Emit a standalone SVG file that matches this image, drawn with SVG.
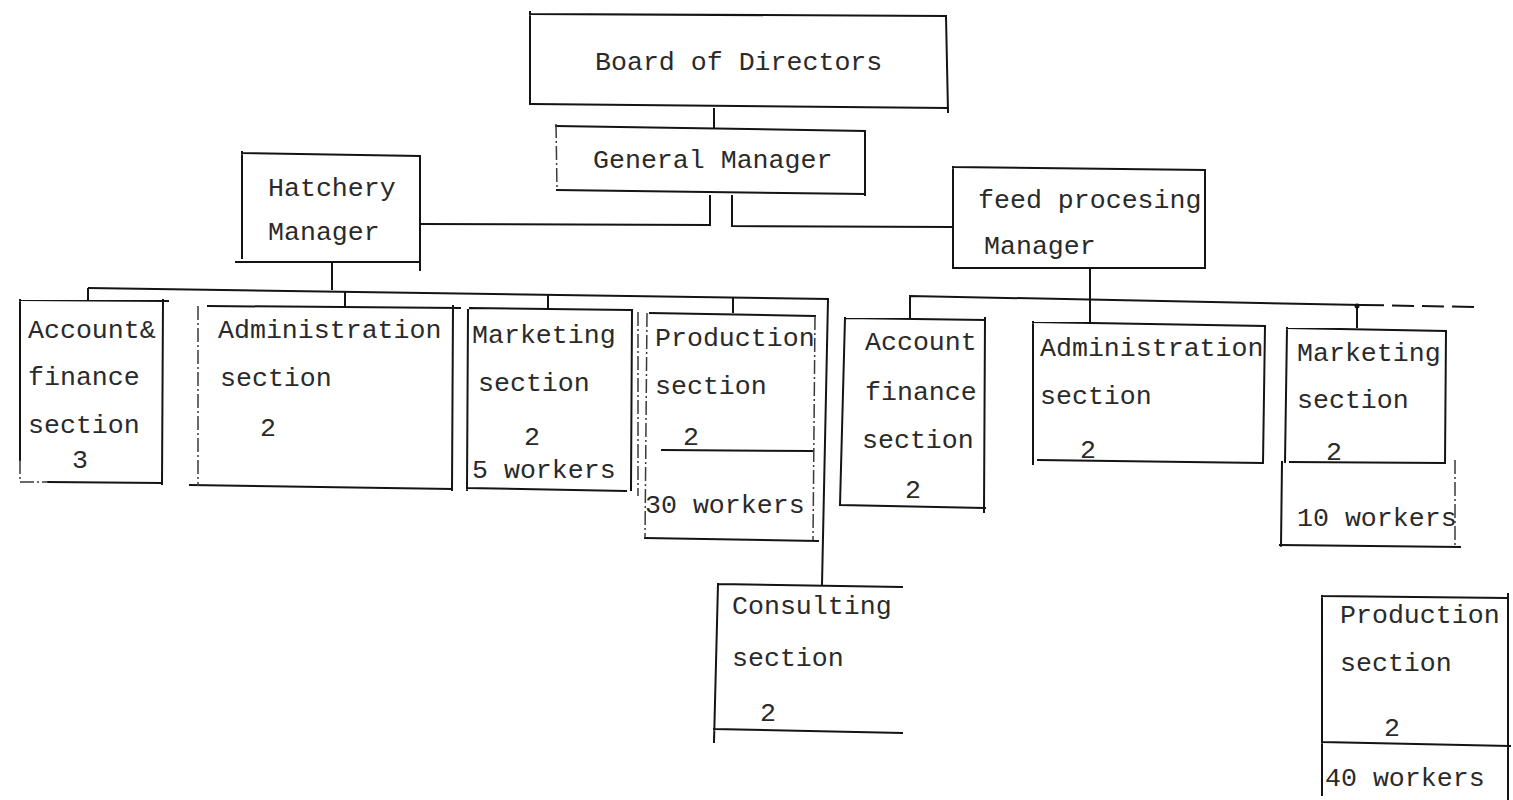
<svg xmlns="http://www.w3.org/2000/svg" width="1513" height="800" viewBox="0 0 1513 800">
  <style>
    .box { fill: none; stroke: #141414; stroke-width: 2; stroke-linecap: square; }
    .faint { fill: none; stroke: #3a3a3a; stroke-width: 1.5; stroke-dasharray: 14 3 2 3; }
    .link { fill: none; stroke: #141414; stroke-width: 2; }
    .dash { fill: none; stroke: #141414; stroke-width: 2; stroke-dasharray: 22 8; }
    text { font-family: "Liberation Mono", "DejaVu Sans Mono", monospace; font-size: 26.6px; fill: #2a2a2a; }
  </style>
  <rect width="1513" height="800" fill="#ffffff"/>

  <!-- reporting lines -->
  <g id="connectors">
    <!-- board to general manager -->
    <path class="link" d="M714,108 L714,128"/>
    <!-- general manager to the two division managers -->
    <path class="link" d="M710,195 L710,225 L420,224"/>
    <path class="link" d="M732,195 L732,226 L953,227"/>
    <!-- hatchery division bus -->
    <path class="link" d="M332,262 L332,290"/>
    <path class="link" d="M88,288 L828,299 L822,585"/>
    <path class="link" d="M88,288 L88,300"/>
    <path class="link" d="M345,292 L345,306"/>
    <path class="link" d="M548,295 L548,309"/>
    <path class="link" d="M733,297 L733,313"/>
    <!-- feed processing division bus -->
    <path class="link" d="M1090,268 L1090,322"/>
    <path class="link" d="M910,318 L910,296 L1362,305"/>
    <path class="dash" d="M1362,305 L1480,307"/>
    <path class="link" d="M1357,305 L1357,328"/>
    <circle cx="1357" cy="306" r="2.5" fill="#141414"/>
  </g>

  <g id="board">
    <path class="box" d="M530,14 L946,16 M946,16 L948,112 M532,104 L948,108 M530,12 L530,104"/>
    <text x="595" y="70">Board of Directors</text>
  </g>

  <g id="general-manager">
    <path class="box" d="M556,126 L865,131 L865,195 M557,190 L865,194"/>
    <path class="faint" d="M556,124 L557,190"/>
    <text x="593" y="168">General Manager</text>
  </g>

  <g id="hatchery-manager">
    <path class="box" d="M242,153 L420,156 L420,270 M236,262 L418,262 M242,152 L242,258"/>
    <text x="268" y="196">Hatchery</text>
    <text x="268" y="240">Manager</text>
  </g>

  <g id="feed-manager">
    <path class="box" d="M953,167 L1205,170 L1205,268 M953,167 L953,268 L1205,268"/>
    <text x="978" y="208">feed procesing</text>
    <text x="984" y="254">Manager</text>
  </g>

  <!-- hatchery division sections -->
  <g id="hatchery-accounts">
    <path class="box" d="M20,300 L168,301 M163,300 L162,484 M48,482 L162,483 M20,300 L20,460"/>
    <path class="faint" d="M20,460 L20,482 L48,482"/>
    <text x="28" y="338">Account&amp;</text>
    <text x="28" y="385">finance</text>
    <text x="28" y="433">section</text>
    <text x="72" y="468">3</text>
  </g>

  <g id="hatchery-administration">
    <path class="box" d="M208,306 L460,308 M453,306 L452,490 M190,485 L452,489"/>
    <path class="faint" d="M198,306 L198,486"/>
    <text x="218" y="338">Administration</text>
    <text x="220" y="386">section</text>
    <text x="260" y="436">2</text>
  </g>

  <g id="hatchery-marketing">
    <path class="box" d="M470,308 L630,310 M632,310 L631,490 M467,488 L626,491 M468,310 L467,490"/>
    <path class="faint" d="M638,312 L638,496"/>
    <text x="472" y="343">Marketing</text>
    <text x="478" y="391">section</text>
    <text x="524" y="445">2</text>
    <text x="472" y="478">5 workers</text>
  </g>

  <g id="hatchery-production">
    <path class="box" d="M650,313 L815,316 M645,538 L818,541 M662,450 L812,451"/>
    <path class="faint" d="M647,313 L645,538 M815,316 L813,540"/>
    <text x="655" y="346">Production</text>
    <text x="655" y="394">section</text>
    <text x="683" y="445">2</text>
    <text x="645" y="513">30 workers</text>
  </g>

  <g id="hatchery-consulting">
    <path class="box" d="M718,584 L902,587 M718,584 L714,742 M714,729 L902,733"/>
    <text x="732" y="614">Consulting</text>
    <text x="732" y="666">section</text>
    <text x="760" y="721">2</text>
  </g>

  <!-- feed processing division sections -->
  <g id="feed-accounts">
    <path class="box" d="M845,318 L985,320 M985,318 L984,512 M840,505 L985,508 M845,318 L840,505"/>
    <text x="865" y="350">Account</text>
    <text x="865" y="400">finance</text>
    <text x="862" y="448">section</text>
    <text x="905" y="498">2</text>
  </g>

  <g id="feed-administration">
    <path class="box" d="M1033,322 L1265,326 L1263,463 M1038,460 L1263,463 M1033,322 L1033,464"/>
    <text x="1040" y="356">Administration</text>
    <text x="1040" y="404">section</text>
    <text x="1080" y="458">2</text>
  </g>

  <g id="feed-marketing">
    <path class="box" d="M1287,328 L1446,331 L1445,463 M1290,462 L1445,463 M1287,328 L1285,462"/>
    <text x="1297" y="361">Marketing</text>
    <text x="1297" y="408">section</text>
    <text x="1326" y="460">2</text>
    <path class="box" d="M1282,462 L1281,546 M1280,545 L1460,547"/>
    <path class="faint" d="M1455,460 L1455,548"/>
    <text x="1297" y="526">10 workers</text>
  </g>

  <g id="feed-production">
    <path class="box" d="M1322,596 L1508,598 M1322,596 L1322,795 M1322,742 L1510,746 M1508,594 L1508,800"/>
    <text x="1340" y="623">Production</text>
    <text x="1340" y="671">section</text>
    <text x="1384" y="736">2</text>
    <text x="1325" y="786">40 workers</text>
  </g>
</svg>
